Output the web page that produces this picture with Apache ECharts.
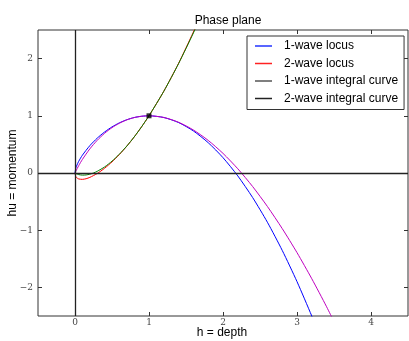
<!DOCTYPE html>
<html>
<head>
<meta charset="utf-8">
<script src="https://cdn.jsdelivr.net/npm/echarts@6/dist/echarts.min.js"></script>
<style>
  html, body { margin: 0; padding: 0; background: #fff; }
  #chart { width: 409px; height: 341px; }
</style>
</head>
<body>
<div id="chart"></div>
<script>
// tick positions
const xTicks = [0, 1, 2, 3, 4];
const yTicks = [-2, -1, 0, 1, 2];

// 1-wave locus (blue)
const locus1H = [0, 0.01, 0.02, 0.05, 0.1, 0.2, 0.3, 0.4, 0.5, 0.6, 0.7, 0.8, 0.9, 1.0, 1.2, 1.4, 1.6, 1.8, 2.0, 2.2, 2.4, 2.6, 2.8, 3.0, 3.2, 3.3];
const locus1HU = [0, 0.080, 0.119, 0.204, 0.311, 0.477, 0.609, 0.717, 0.806, 0.877, 0.931, 0.970, 0.992, 1.0, 0.970, 0.882, 0.735, 0.530, 0.268, -0.051, -0.428, -0.861, -1.352, -1.899, -2.502, -2.826];

// 2-wave locus (red)
const locus2H = [0, 0.01, 0.02, 0.05, 0.1, 0.15, 0.2, 0.3, 0.4, 0.5, 0.6, 0.7, 0.8, 0.9, 1.0, 1.2, 1.4, 1.6, 1.7];
const locus2HU = [0, -0.060, -0.079, -0.104, -0.111, -0.100, -0.077, -0.009, 0.083, 0.194, 0.323, 0.469, 0.630, 0.808, 1.0, 1.429, 1.918, 2.465, 2.761];

// 1-wave integral curve (magenta)
const integral1H = [0, 0.01, 0.05, 0.1, 0.2, 0.3, 0.4, 0.5, 0.6, 0.7, 0.8, 0.9, 1.0, 1.2, 1.4, 1.6, 1.8, 2.0, 2.2, 2.4, 2.6, 2.8, 3.0, 3.2, 3.4, 3.6];
const integral1HU = [0, 0.028, 0.128, 0.237, 0.421, 0.571, 0.694, 0.793, 0.870, 0.929, 0.969, 0.992, 1.0, 0.971, 0.887, 0.752, 0.570, 0.343, 0.074, -0.236, -0.585, -0.971, -1.392, -1.849, -2.339, -2.861];

// 2-wave integral curve (green)
const integral2H = [0, 0.02, 0.05, 0.1, 0.15, 0.2, 0.25, 0.3, 0.4, 0.5, 0.6, 0.7, 0.8, 0.9, 1.0, 1.2, 1.4, 1.6, 1.7];
const integral2HU = [0, -0.014, -0.028, -0.037, -0.034, -0.021, 0, 0.029, 0.106, 0.207, 0.330, 0.471, 0.631, 0.808, 1.0, 1.429, 1.913, 2.448, 2.733];

// reference state
const stateH = [1];
const stateHU = [1];

const zip = (a, b) => a.map((v, i) => [v, b[i]]);
const sans = 'Liberation Sans, Arial, sans-serif';
const serif = 'DejaVu Serif, serif';

const chart = echarts.init(document.getElementById('chart'));

const tickStyle = { show: true, inside: true, length: 4, lineStyle: { color: '#333' } };

function frameAxis(pos, min, max, ticks) {
  return {
    type: 'value',
    position: pos,
    min: min,
    max: max,
    splitLine: { show: false },
    axisLine: { show: false, onZero: false },
    axisTick: Object.assign({}, tickStyle, { customValues: ticks }),
    axisLabel: { show: false }
  };
}

function curve(name, h, hu, color) {
  return {
    name: name,
    type: 'line',
    data: zip(h, hu),
    showSymbol: false,
    symbol: 'none',
    smooth: 0.25,
    lineStyle: { color: color, width: 1 },
    itemStyle: { color: color },
    clip: true
  };
}

const xMain = frameAxis('bottom', -0.5, 4.5, xTicks);
xMain.axisLabel = { show: true, customValues: xTicks, margin: 2, fontFamily: serif, fontSize: 9, color: '#444' };

const yMain = frameAxis('left', -2.5, 2.5, yTicks);
yMain.axisLabel = {
  show: true, customValues: yTicks, margin: 5, fontFamily: serif, fontSize: 9, color: '#444',
  formatter: v => (v < 0 ? '\u2212' + Math.abs(v) : String(v))
};

const option = {
  animation: false,
  title: {
    text: 'Phase plane',
    left: 223,
    top: 10,
    textAlign: 'center',
    textStyle: { fontFamily: sans, fontSize: 12, fontWeight: 'normal', color: '#000' }
  },
  graphic: [
    {
      type: 'text', x: 222, y: 333,
      style: { text: 'h = depth', fontFamily: sans, fontSize: 12, fill: '#000', align: 'center', verticalAlign: 'middle' }
    },
    {
      type: 'text', x: 13, y: 173, rotation: Math.PI / 2,
      style: { text: 'hu = momentum', fontFamily: sans, fontSize: 12, fill: '#000', align: 'center', verticalAlign: 'middle' }
    }
  ],
  grid: {
    left: 38, top: 30, width: 370, height: 286,
    outerBoundsMode: 'none',
    containLabel: false,
    show: true, borderColor: '#333', borderWidth: 1, backgroundColor: '#fff'
  },
  legend: {
    orient: 'vertical',
    left: 247,
    top: 36,
    padding: [3, 6, 4, 8],
    itemGap: 3.5,
    itemWidth: 17,
    itemHeight: 1.5,
    icon: 'rect',
    backgroundColor: '#fff',
    borderColor: '#333',
    borderWidth: 1,
    selectedMode: false,
    textStyle: { fontFamily: sans, fontSize: 12, color: '#000', padding: [0, 0, 0, 7], lineHeight: 14 },
    data: [
      { name: '1-wave locus', itemStyle: { color: '#2233ff' } },
      { name: '2-wave locus', itemStyle: { color: '#ff2222' } },
      { name: '1-wave integral curve', itemStyle: { color: '#555' } },
      { name: '2-wave integral curve', itemStyle: { color: '#222' } }
    ]
  },
  xAxis: [xMain, frameAxis('top', -0.5, 4.5, xTicks)],
  yAxis: [yMain, frameAxis('right', -2.5, 2.5, yTicks)],
  series: [
    Object.assign(curve('1-wave locus', locus1H, locus1HU, '#0000ff'), {
      markLine: {
        silent: true,
        symbol: 'none',
        label: { show: false },
        lineStyle: { color: '#222', width: 1.3, type: 'solid' },
        data: [{ xAxis: 0 }, { yAxis: 0 }]
      }
    }),
    curve('2-wave locus', locus2H, locus2HU, '#ff0000'),
    curve('1-wave integral curve', integral1H, integral1HU, '#bf00bf'),
    curve('2-wave integral curve', integral2H, integral2HU, '#008000'),
    {
      name: 'state',
      type: 'scatter',
      data: zip(stateH, stateHU),
      symbol: 'rect',
      symbolSize: 5,
      itemStyle: { color: '#000' },
      z: 5
    }
  ]
};

chart.setOption(option);
</script>
</body>
</html>
